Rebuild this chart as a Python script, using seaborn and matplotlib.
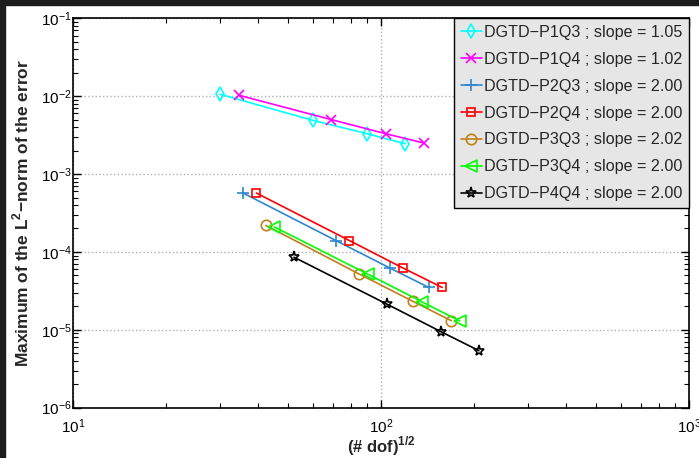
import numpy as np
import pandas as pd
import matplotlib
matplotlib.use("Agg")
import matplotlib.pyplot as plt
from matplotlib.patches import Rectangle
import seaborn as sns

# ---- data ----
labels = ["DGTD−P1Q3 ; slope = 1.05", "DGTD−P1Q4 ; slope = 1.02",
          "DGTD−P2Q3 ; slope = 2.00", "DGTD−P2Q4 ; slope = 2.00",
          "DGTD−P3Q3 ; slope = 2.02", "DGTD−P3Q4 ; slope = 2.00",
          "DGTD−P4Q4 ; slope = 2.00"]
x_p1q3 = [30, 60, 90, 120]
y_p1q3 = [1.06e-2, 4.9e-3, 3.3e-3, 2.45e-3]
x_p1q4 = [34.5, 69, 103.5, 138]
y_p1q4 = [1.03e-2, 5.0e-3, 3.3e-3, 2.5e-3]
x_p2q3 = [35.7, 71.4, 107, 143]
y_p2q3 = [5.7e-4, 1.4e-4, 6.2e-5, 3.5e-5]
x_p2q4 = [39.4, 79, 118, 158]
y_p2q4 = [5.7e-4, 1.4e-4, 6.2e-5, 3.5e-5]
x_p3q3 = [42.3, 85, 127, 169]
y_p3q3 = [2.19e-4, 5.2e-5, 2.32e-5, 1.31e-5]
x_p3q4 = [45, 90.5, 135.5, 180]
y_p3q4 = [2.1e-4, 5.2e-5, 2.3e-5, 1.3e-5]
x_p4q4 = [52.2, 104.2, 156.3, 208]
y_p4q4 = [8.55e-5, 2.15e-5, 9.5e-6, 5.4e-6]

xs = [x_p1q3, x_p1q4, x_p2q3, x_p2q4, x_p3q3, x_p3q4, x_p4q4]
ys = [y_p1q3, y_p1q4, y_p2q3, y_p2q4, y_p3q3, y_p3q4, y_p4q4]

colors = ["#00ffff", "#ff00ff", "#2f86cc", "#ff0000", "#c0801a", "#00ff00", "#000000"]
markers = ["d", "x", "+", "s", "o", "<", "*"]
msizes = [7, 7, 8, 6, 7.5, 8, 8]

sns.set_style("white")
plt.rcParams["font.family"] = ["Liberation Sans", "DejaVu Sans"]
plt.rcParams["mathtext.fontset"] = "custom"
plt.rcParams["mathtext.rm"] = "Liberation Sans"
plt.rcParams["mathtext.bf"] = "Liberation Sans:bold"

fig = plt.figure(figsize=(6.99, 4.58), dpi=100)
fig.patch.set_facecolor("white")
ax = fig.add_axes([73 / 699, 1 - 407.7 / 458, (689 - 73) / 699, (407.7 - 18.3) / 458])

for xv, yv, lab, c, m, ms in zip(xs, ys, labels, colors, markers, msizes):
    df = pd.DataFrame({"x": xv, "y": yv})
    mfc = c if m in ("x", "+") else "none"
    sns.lineplot(data=df, x="x", y="y", ax=ax, color=c, marker=m, markersize=ms,
                 markerfacecolor=mfc, markeredgecolor=c, markeredgewidth=1.2,
                 linewidth=1.2, label=lab, errorbar=None, sort=False)

ax.set_xscale("log")
ax.set_yscale("log")
ax.set_xlim(10, 1000)
ax.set_ylim(1e-6, 1e-1)

ax.grid(True, which="major", linestyle=":", color="#b0b0b0", linewidth=1.0)
ax.set_axisbelow(True)
for s in ax.spines.values():
    s.set_visible(True)
    s.set_color("black")
    s.set_linewidth(1.2)

ax.tick_params(which="both", direction="in", top=True, right=True, colors="black",
               labelsize=11, bottom=True, left=True)
ax.tick_params(axis="y", which="major", length=6, width=1.0, pad=1)
ax.tick_params(axis="x", which="major", length=6, width=1.0, pad=7)
ax.tick_params(which="minor", length=3.5, width=0.8)

ax.set_xlabel("(# dof)$^{\\mathbf{1/2}}$", fontsize=12, fontweight="bold", labelpad=-1)
ax.set_ylabel("Maximum of the L$^{\\mathbf{2}}$−norm of the error", fontsize=12.5,
              fontweight="bold", labelpad=7)

leg = ax.legend(loc="upper right", borderaxespad=0, fancybox=False, framealpha=1,
                facecolor="#e6e6e6", edgecolor="black", fontsize=11.6,
                handlelength=1.3, handletextpad=0.15, labelspacing=0.74,
                borderpad=0.4)
leg.get_frame().set_linewidth(1.0)

# dark border strips of the original screenshot
fig.patches.append(Rectangle((0, 0), 5 / 699, 1, transform=fig.transFigure,
                             color="#1c1c1c", zorder=10))
fig.patches.append(Rectangle((0, 1 - 5 / 458), 1, 5 / 458, transform=fig.transFigure,
                             color="#1c1c1c", zorder=10))

fig.savefig("out.png", dpi=100)
